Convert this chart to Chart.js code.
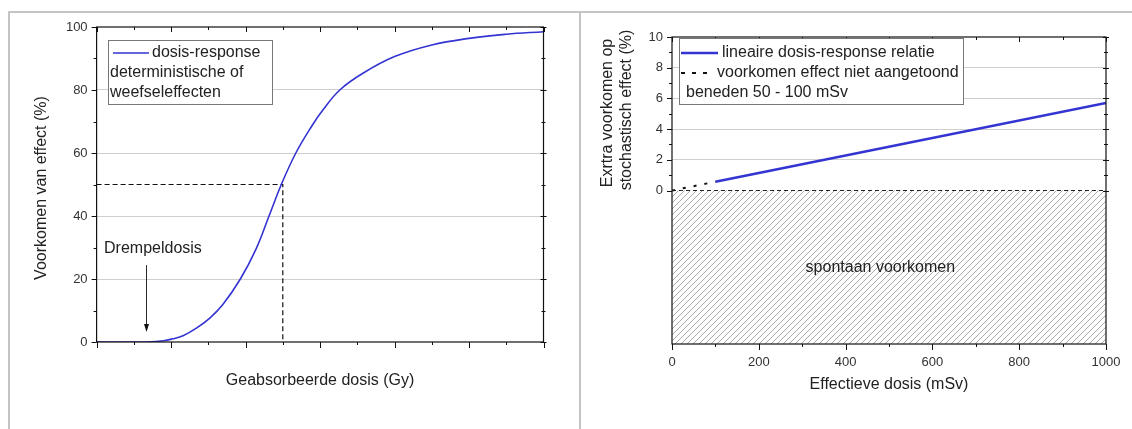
<!DOCTYPE html>
<html>
<head>
<meta charset="utf-8">
<script src="https://cdn.jsdelivr.net/npm/chart.js@4.4.1/dist/chart.umd.min.js"></script>
<style>
html, body { margin: 0; padding: 0; background: #fff; }
#wrap { position: relative; width: 1132px; height: 429px; overflow: hidden; }
#cL { position: absolute; left: 0; top: 0; }
#cR { position: absolute; left: 581px; top: 0; }
.ln { position: absolute; background: #c4c4c4; }
</style>
</head>
<body>
<div id="wrap">
  <canvas id="cL" width="578" height="429"></canvas>
  <canvas id="cR" width="551" height="429"></canvas>
  <div class="ln" style="left:8px;top:11px;width:1124px;height:2px"></div>
  <div class="ln" style="left:8px;top:11px;width:2px;height:418px"></div>
  <div class="ln" style="left:579px;top:11px;width:2px;height:418px"></div>
</div>
<script>
const doseGy = [0, 0.5, 1, 1.34, 1.8, 2.04, 2.32, 2.68, 3.04, 3.39, 3.86, 4.28, 4.63, 4.96, 5.35, 5.77, 6.08, 6.53, 7.15, 8, 9, 10, 11, 12];
const effectPct = [0, 0, 0, 0, 0.4, 1, 2, 4.4, 7.6, 11.9, 20, 29.5, 40, 50, 60, 68.4, 73.7, 80, 85.3, 90.6, 94.3, 96.4, 97.7, 98.5];
const halfDoseX = [0, 5, 5];
const halfDoseY = [50, 50, 0];
const leftYTicks = [0, 20, 40, 60, 80, 100];

// rechter grafiek: stochastische effecten
const lineDoseMSv = [100, 1000];
const lineExtraPct = [0.57, 5.7];
const lowDoseMSv = [0, 100];
const lowExtraPct = [0, 0.57];
const baseDoseMSv = [0, 1000];
const baseExtraPct = [0, 0];
const rightXTicks = [0, 200, 400, 600, 800, 1000];
const rightYTicks = [0, 2, 4, 6, 8, 10];

const FONT = "'Liberation Sans', Arial, sans-serif";
const BLUE = '#3434d2';

function pts(xs, ys) {
    return xs.map((x, i) => ({ x: x, y: ys[i] }));
}

// tick marks langs de kaders, via de schalen getekend
function tickMarks(chart, xMajor, xMinor, yMajor, yMinor) {
    const ctx = chart.ctx, a = chart.chartArea;
    const xs = chart.scales.x, ys = chart.scales.y;
    ctx.save();
    ctx.strokeStyle = '#111';
    ctx.lineWidth = 1;
    ctx.beginPath();
    xMajor.forEach(v => {
        const p = Math.round(xs.getPixelForValue(v)) + 0.5;
        ctx.moveTo(p, a.bottom); ctx.lineTo(p, a.bottom + 6);
        ctx.moveTo(p, a.top); ctx.lineTo(p, a.top + 5);
    });
    xMinor.forEach(v => {
        const p = Math.round(xs.getPixelForValue(v)) + 0.5;
        ctx.moveTo(p, a.bottom); ctx.lineTo(p, a.bottom + 3);
        ctx.moveTo(p, a.top); ctx.lineTo(p, a.top + 3);
    });
    yMajor.forEach(v => {
        const p = Math.round(ys.getPixelForValue(v)) + 0.5;
        ctx.moveTo(a.left - 5, p); ctx.lineTo(a.left, p);
        ctx.moveTo(a.right - 3, p); ctx.lineTo(a.right + 3, p);
    });
    yMinor.forEach(v => {
        const p = Math.round(ys.getPixelForValue(v)) + 0.5;
        ctx.moveTo(a.left - 3, p); ctx.lineTo(a.left, p);
        ctx.moveTo(a.right - 2, p); ctx.lineTo(a.right + 2, p);
    });
    ctx.stroke();
    ctx.lineWidth = 1.2;
    ctx.strokeRect(a.left, a.top, a.right - a.left, a.bottom - a.top);
    ctx.restore();
}

function text(ctx, s, x, y, size, align, rot) {
    ctx.save();
    ctx.translate(x, y);
    if (rot) ctx.rotate(rot);
    ctx.font = size + 'px ' + FONT;
    ctx.fillStyle = '#222';
    ctx.textAlign = align || 'left';
    ctx.textBaseline = 'middle';
    ctx.fillText(s, 0, 0);
    ctx.restore();
}

const leftExtras = {
    id: 'leftExtras',
    afterDraw(chart) {
        const ctx = chart.ctx, a = chart.chartArea;
        const xs = chart.scales.x, ys = chart.scales.y;
        tickMarks(chart, [0, 2, 4, 6, 8, 10, 12], [1, 3, 5, 7, 9, 11],
                  leftYTicks, [10, 30, 50, 70, 90]);
        // assentitels
        text(ctx, 'Geabsorbeerde dosis (Gy)', (a.left + a.right) / 2, 381, 16, 'center');
        text(ctx, 'Voorkomen van effect (%)', 42, 188, 16, 'center', -Math.PI / 2);
        // legenda
        ctx.save();
        ctx.fillStyle = '#fff';
        ctx.fillRect(108, 40, 164, 64);
        ctx.strokeStyle = '#777';
        ctx.lineWidth = 1;
        ctx.strokeRect(108.5, 40.5, 164, 64);
        ctx.strokeStyle = BLUE;
        ctx.lineWidth = 1.6;
        ctx.beginPath(); ctx.moveTo(113, 53); ctx.lineTo(149, 53); ctx.stroke();
        ctx.restore();
        text(ctx, 'dosis-response', 152, 53, 16);
        text(ctx, 'deterministische of', 110, 73, 16);
        text(ctx, 'weefseleffecten', 110, 93, 16);
        // drempeldosis
        const ax = xs.getPixelForValue(1.34);
        const y0 = ys.getPixelForValue(24.4), y1 = ys.getPixelForValue(3.2);
        text(ctx, 'Drempeldosis', xs.getPixelForValue(0.2), ys.getPixelForValue(29.5), 16);
        ctx.save();
        ctx.strokeStyle = '#111';
        ctx.fillStyle = '#111';
        ctx.lineWidth = 0.9;
        ctx.beginPath(); ctx.moveTo(ax, y0); ctx.lineTo(ax, y1 - 6); ctx.stroke();
        ctx.beginPath(); ctx.moveTo(ax, y1); ctx.lineTo(ax - 2.5, y1 - 8); ctx.lineTo(ax + 2.5, y1 - 8); ctx.closePath(); ctx.fill();
        ctx.restore();
    }
};

function hatch() {
    const s = 6;
    const c = document.createElement('canvas');
    c.width = s; c.height = s;
    const g = c.getContext('2d');
    g.strokeStyle = '#8a8a8a';
    g.lineWidth = 0.75;
    g.beginPath();
    g.moveTo(-1, s + 1); g.lineTo(s + 1, -1);
    g.moveTo(-1, 1); g.lineTo(1, -1);
    g.moveTo(s - 1, s + 1); g.lineTo(s + 1, s - 1);
    g.stroke();
    return g.createPattern(c, 'repeat');
}

const rightExtras = {
    id: 'rightExtras',
    afterDraw(chart) {
        const ctx = chart.ctx, a = chart.chartArea;
        const xs = chart.scales.x, ys = chart.scales.y;
        tickMarks(chart, rightXTicks, [100, 300, 500, 700, 900], rightYTicks, [1, 3, 5, 7, 9]);
        text(ctx, 'spontaan voorkomen', xs.getPixelForValue(480), ys.getPixelForValue(-5), 16, 'center');
        text(ctx, 'Effectieve dosis (mSv)', (a.left + a.right) / 2, 385, 16, 'center');
        text(ctx, 'Exrtra voorkomen op', 27, 113, 16, 'center', -Math.PI / 2);
        text(ctx, 'stochastisch effect (%)', 46, 110, 16, 'center', -Math.PI / 2);
        // legenda
        ctx.save();
        ctx.fillStyle = '#fff';
        ctx.fillRect(98, 38, 284, 66);
        ctx.strokeStyle = '#777';
        ctx.lineWidth = 1;
        ctx.strokeRect(98.5, 38.5, 284, 66);
        ctx.strokeStyle = BLUE;
        ctx.lineWidth = 2.6;
        ctx.beginPath(); ctx.moveTo(100, 53); ctx.lineTo(137, 53); ctx.stroke();
        ctx.strokeStyle = '#111';
        ctx.lineWidth = 1.8;
        ctx.setLineDash([4, 7]);
        ctx.beginPath(); ctx.moveTo(100, 73); ctx.lineTo(133, 73); ctx.stroke();
        ctx.restore();
        text(ctx, 'lineaire dosis-response relatie', 141, 53, 16);
        text(ctx, 'voorkomen effect niet aangetoond', 136, 73, 16);
        text(ctx, 'beneden 50 - 100 mSv', 105, 93, 16);
    }
};

const tickFont = { family: FONT, size: 13 };

new Chart(document.getElementById('cL'), {
    type: 'line',
    data: {
        datasets: [{
            data: pts(doseGy, effectPct),
            borderColor: BLUE,
            borderWidth: 1.6,
            pointRadius: 0,
            tension: 0.4
        }, {
            data: pts(halfDoseX, halfDoseY),
            borderColor: '#111',
            borderWidth: 1.2,
            borderDash: [5, 3],
            pointRadius: 0,
            tension: 0
        }]
    },
    options: {
        responsive: false,
        animation: false,
        layout: { padding: { top: 27, right: 34.5, left: 0, bottom: 0 } },
        plugins: { legend: { display: false }, tooltip: { enabled: false } },
        scales: {
            x: {
                type: 'linear', min: 0, max: 12,
                ticks: { display: false },
                grid: { display: false },
                border: { display: false },
                afterFit: (s) => { s.height = 87; }
            },
            y: {
                min: 0, max: 100,
                afterBuildTicks: (s) => { s.ticks = leftYTicks.map(v => ({ value: v })); },
                ticks: { color: '#333', font: tickFont, padding: 9 },
                grid: {
                    drawTicks: false,
                    color: (c) => (c.tick && c.tick.value > 0 && c.tick.value < 100) ? '#cfcfcf' : 'rgba(0,0,0,0)',
                    lineWidth: 1
                },
                border: { display: false },
                afterFit: (s) => { s.width = 96.6; }
            }
        }
    },
    plugins: [leftExtras]
});

new Chart(document.getElementById('cR'), {
    type: 'line',
    data: {
        datasets: [{
            data: pts(baseDoseMSv, baseExtraPct),
            borderColor: '#222',
            borderWidth: 1,
            borderDash: [4, 3],
            pointRadius: 0,
            fill: 'start',
            backgroundColor: hatch()
        }, {
            data: pts(lowDoseMSv, lowExtraPct),
            borderColor: '#111',
            borderWidth: 2,
            borderDash: [3, 8],
            pointRadius: 0
        }, {
            data: pts(lineDoseMSv, lineExtraPct),
            borderColor: BLUE,
            borderWidth: 2.6,
            pointRadius: 0
        }]
    },
    options: {
        responsive: false,
        animation: false,
        layout: { padding: { top: 37, right: 26, left: 0, bottom: 0 } },
        plugins: { legend: { display: false }, tooltip: { enabled: false } },
        scales: {
            x: {
                type: 'linear', min: 0, max: 1000,
                afterBuildTicks: (s) => { s.ticks = rightXTicks.map(v => ({ value: v })); },
                ticks: { color: '#333', font: tickFont, padding: 3, maxRotation: 0, callback: (v) => String(v) },
                grid: { display: false },
                border: { display: false },
                afterFit: (s) => { s.height = 85; }
            },
            y: {
                min: -10, max: 10,
                afterBuildTicks: (s) => { s.ticks = rightYTicks.map(v => ({ value: v })); },
                ticks: { color: '#333', font: tickFont, padding: 9 },
                grid: {
                    drawTicks: false,
                    color: (c) => (c.tick && c.tick.value > 0 && c.tick.value < 10) ? '#cfcfcf' : 'rgba(0,0,0,0)',
                    lineWidth: 1
                },
                border: { display: false },
                afterFit: (s) => { s.width = 91; }
            }
        }
    },
    plugins: [rightExtras]
});
</script>
</body>
</html>
